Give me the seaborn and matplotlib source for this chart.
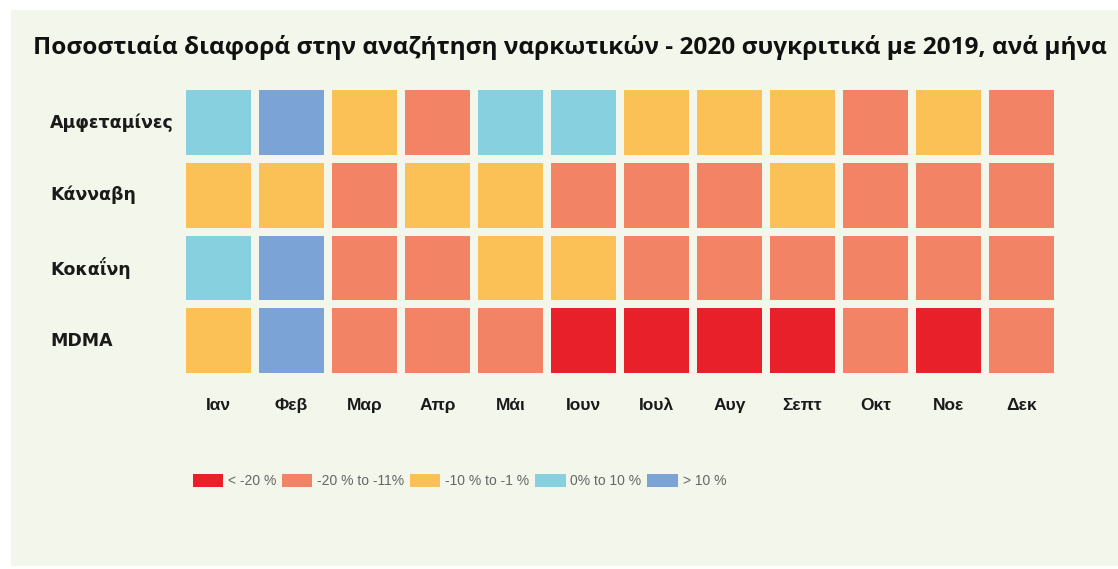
import seaborn as sns
import numpy as np
import pandas as pd
import matplotlib.pyplot as plt
from matplotlib.colors import ListedColormap
from matplotlib.patches import Patch, Rectangle

# Data
months = ['Ιαν', 'Φεβ', 'Μαρ', 'Απρ', 'Μάι', 'Ιουν', 'Ιουλ', 'Αυγ', 'Σεπτ', 'Οκτ', 'Νοε', 'Δεκ']
drugs = ['Αμφεταμίνες', 'Κάνναβη', 'Κοκαΐνη', 'MDMA']
# class index: 0 = < -20 %, 1 = -20..-11 %, 2 = -10..-1 %, 3 = 0..10 %, 4 = > 10 %
amphetamines = [3, 4, 2, 1, 3, 3, 2, 2, 2, 1, 2, 1]
cannabis = [2, 2, 1, 2, 2, 1, 1, 1, 2, 1, 1, 1]
cocaine = [3, 4, 1, 1, 2, 2, 1, 1, 1, 1, 1, 1]
mdma = [2, 4, 1, 1, 1, 0, 0, 0, 0, 1, 0, 1]
class_labels = ['< -20 %', '-20 % to -11%', '-10 % to -1 %', '0% to 10 %', '> 10 %']
class_colors = ['#E8202A', '#F28465', '#FBC157', '#87D0E0', '#7BA3D6']

bg = '#F3F6EA'

df = pd.DataFrame([amphetamines, cannabis, cocaine, mdma], index=drugs, columns=months)

fig = plt.figure(figsize=(11.18, 5.69), dpi=100, facecolor='white')
fig.patches.append(Rectangle((11 / 1118, 0.005), 1 - 11 / 1118, 1 - 10 / 569 - 0.005,
                             transform=fig.transFigure, facecolor=bg, edgecolor='none', zorder=-5))

ax = fig.add_axes([182 / 1118, 1 - 377 / 569, 876 / 1118, 291 / 569])
sns.heatmap(df, ax=ax, cmap=ListedColormap(class_colors), vmin=-0.5, vmax=4.5,
            cbar=False, linewidths=5.5, linecolor=bg, square=False)
ax.set_facecolor(bg)
ax.set_xlabel('')
ax.set_ylabel('')

ax.tick_params(axis='both', length=0)
ax.tick_params(axis='x', pad=15)
ax.tick_params(axis='y', pad=95)
for lab in ax.get_xticklabels():
    lab.set_family(['Liberation Sans', 'DejaVu Sans'])
    lab.set_fontweight('bold')
    lab.set_fontsize(12.5)
    lab.set_color('#1a1a1a')
    lab.set_rotation(0)
for lab in ax.get_yticklabels():
    lab.set_family(['DejaVu Sans'])
    lab.set_fontweight('bold')
    lab.set_fontsize(12.5)
    lab.set_color('#1a1a1a')
    lab.set_rotation(0)
    lab.set_horizontalalignment('left')

fig.text(33 / 1118, 1 - 48 / 569,
         'Ποσοστιαία διαφορά στην αναζήτηση ναρκωτικών - 2020 συγκριτικά με 2019, ανά μήνα',
         fontsize=17.6, fontweight='bold', family=['Open Sans', 'DejaVu Sans'],
         color='#111111', va='center', ha='left')

handles = [Patch(facecolor=c, edgecolor='none') for c in class_colors]
leg = fig.legend(handles, class_labels, loc='center left', ncol=5,
                 bbox_to_anchor=(180 / 1118, 1 - 481 / 569), frameon=False,
                 handlelength=2.2, handleheight=1.1, handletextpad=0.35,
                 columnspacing=0.4, prop={'family': ['Liberation Sans', 'DejaVu Sans'], 'size': 10})
for t in leg.get_texts():
    t.set_color('#666666')

fig.savefig('out.png', dpi=100, facecolor=fig.get_facecolor())
